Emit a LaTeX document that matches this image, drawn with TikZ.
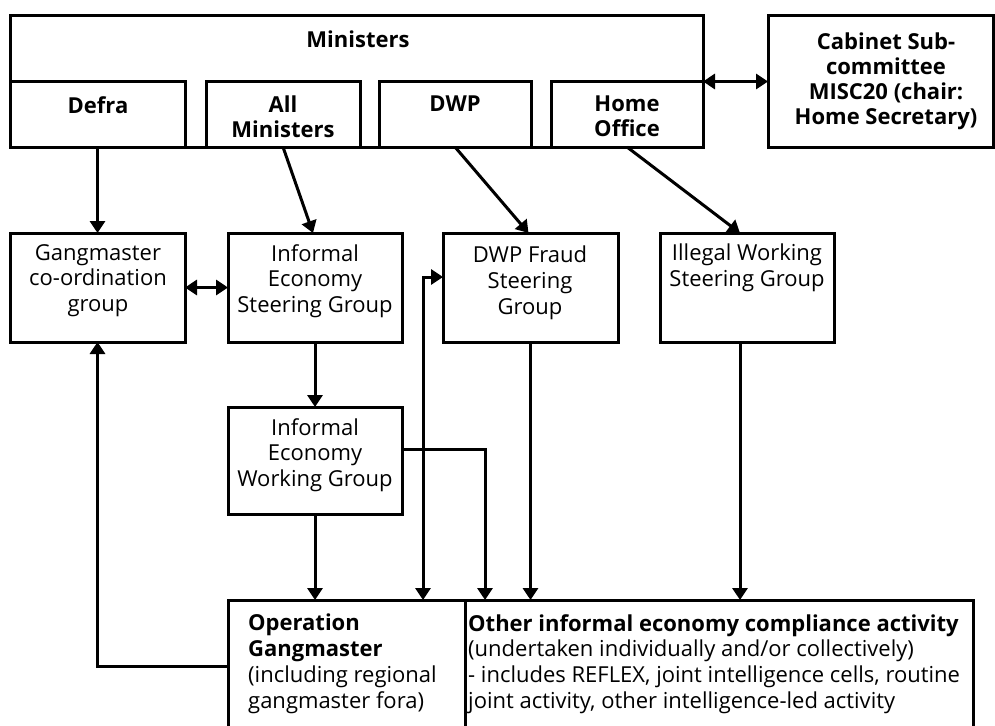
\documentclass[tikz,border=0pt]{standalone}
\usepackage{fontspec}
\setmainfont{Open Sans}
\usetikzlibrary{arrows.meta}
\begin{document}
\begin{tikzpicture}[x=1pt,y=-1pt,
  box/.style={draw, line width=3pt, rectangle, inner sep=0pt, outer sep=0pt},
  txt/.style={inner sep=0pt, align=center, anchor=north, font=\fontsize{22}{25.8}\selectfont},
  btxt/.style={txt, font=\fontsize{22}{25}\selectfont\bfseries},
  ltxt/.style={inner sep=0pt, align=left, anchor=north west, font=\fontsize{22}{25.8}\selectfont},
  conn/.style={line width=3pt, >={Triangle[width=15pt,length=12pt]}}]
\useasboundingbox (0,0) rectangle (995,725);
% top row
\node[box, minimum width=693, minimum height=131] (min) at (356.5,81.5) {};
\node[box, minimum width=175, minimum height=66] (defra) at (97.5,114) {};
\node[box, minimum width=154, minimum height=66] (allmin) at (283,114) {};
\node[box, minimum width=152, minimum height=66] (dwp) at (455,114) {};
\node[box, minimum width=152, minimum height=66] (home) at (627,114) {};
\node[box, minimum width=225, minimum height=131] (cab) at (880.5,81.5) {};
\node[btxt] (tmin) at (358,31) {Ministers};
\node[btxt] (tdefra) at (98,96) {Defra};
\node[btxt] (tallmin) at (283,96) {All\\Ministers};
\node[btxt] (tdwp) at (455,96) {DWP};
\node[btxt] (thome) at (627,96) {Home\\Office};
\node[btxt] (tcab) at (886,33) {Cabinet Sub-\\committee\\MISC20 (chair:\\Home Secretary)};
% second row
\node[box, minimum width=175, minimum height=109] (gm) at (97.5,287.5) {};
\node[box, minimum width=174, minimum height=109] (iesg) at (315,287.5) {};
\node[box, minimum width=175, minimum height=109] (dwpf) at (530.5,287.5) {};
\node[box, minimum width=174, minimum height=109] (iwsg) at (747,287.5) {};
\node[txt] (tgm) at (98,244) {Gangmaster\\co-ordination\\group};
\node[txt] (tiesg) at (315,244) {Informal\\Economy\\Steering Group};
\node[txt] (tdwpf) at (530,246) {DWP Fraud\\Steering\\Group};
\node[txt] (tiwsg) at (747,244) {Illegal Working\\Steering Group};
% third row
\node[box, minimum width=174, minimum height=107] (iewg) at (315,460.5) {};
\node[txt] (tiewg) at (315,418) {Informal\\Economy\\Working Group};
% bottom row
\node[box, minimum width=237, minimum height=140] (opg) at (346.5,670) {};
\node[box, minimum width=508, minimum height=140] (other) at (719,670) {};
\node[ltxt] (topg) at (248,614) {\textbf{Operation}\\\textbf{Gangmaster}\\(including regional\\gangmaster fora)};
\node[ltxt] (tother) at (468,614) {\textbf{Other informal economy compliance activity}\\(undertaken individually and/or collectively)\\- includes REFLEX, joint intelligence cells, routine\\joint activity, other intelligence-led activity};
% connectors
\draw[conn, <->] (min.east) -- (cab.west);
\draw[conn, ->] (defra.south) -- (gm.north);
\draw[conn, ->] (allmin.south) -- ([xshift=-2pt]iesg.north);
\draw[conn, ->] (dwp.south) -- ([xshift=-2pt]dwpf.north);
\draw[conn, ->] (home.south) -- ([xshift=-7pt]iwsg.north);
\draw[conn, <->] (gm.east) -- (iesg.west);
\draw[conn, ->] (iesg.south) -- (iewg.north);
\draw[conn, ->] (iewg.south) -- (iewg.south |- opg.north);
\draw[conn, <->] ([yshift=10.5pt]dwpf.west) -| ([xshift=195pt]opg.north west);
\draw[conn, ->] ([yshift=11.5pt]iewg.east) -| ([xshift=20pt]other.north west);
\draw[conn, ->] (dwpf.south) -- (dwpf.south |- other.north);
\draw[conn, ->] ([xshift=-7pt]iwsg.south) -- ([xshift=-7pt]iwsg.south |- other.north);
\draw[conn, ->] ([yshift=4pt]opg.west) -| (gm.south);
\end{tikzpicture}
\end{document}
